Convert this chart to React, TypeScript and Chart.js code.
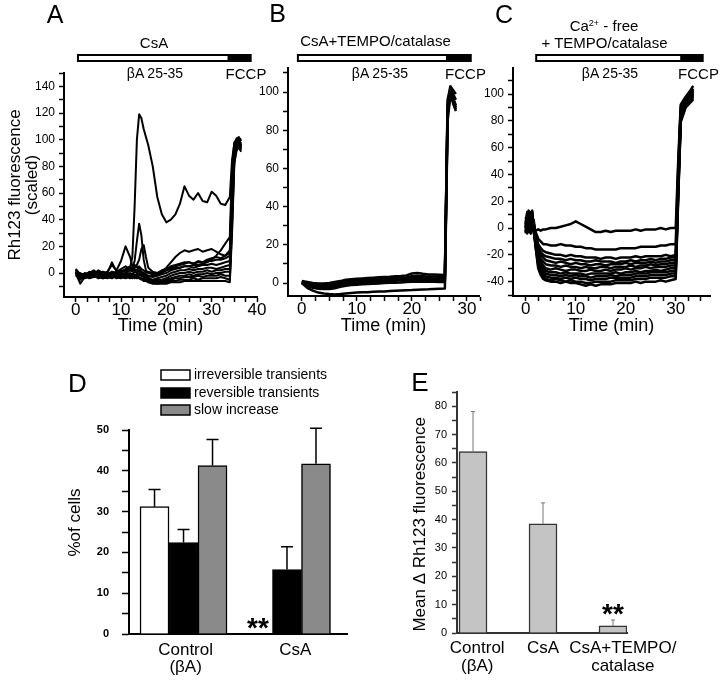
import React, { useEffect, useRef } from 'react';
import { Chart, registerables } from 'chart.js';

Chart.register(...registerables);

const FONT = '"Liberation Sans", Arial, Helvetica, sans-serif';

// ---------------- Panel A (CsA) ----------------
const A_TIME = [0, 1, 2, 3, 4, 5, 6, 7, 8, 9, 10, 11, 12, 12.5, 13, 13.5, 14, 14.5, 15, 15.5, 16, 17, 18, 19, 20, 21, 22, 23, 24, 25, 26, 27, 28, 29, 30, 31, 32, 33, 34, 34.5, 35, 35.5, 36, 36.5];
const A_CELL_1 = [2, -1, -2, 0, -1, 1, 0, -1, 1, 0, 2, 1, 4, 12, 50, 100, 119, 116, 108, 102, 96, 80, 57, 44, 38, 40, 44, 52, 65, 58, 55, 60, 54, 53, 61, 58, 52, 51, 57, 85, 97, 101, 102, 99];
const A_CELL_2 = [0, -2, -1, -1, 0, -2, -1, 0, -1, 1, 0, 2, 3, 4, 9, 24, 37, 28, 10, 2, 0, -1, 0, 2, 3, 5, 6, 7, 8, 8, 7, 8, 8, 9, 9, 10, 10, 11, 13, 75, 96, 99, 101, 100];
const A_CELL_3 = [1, -3, 0, -1, 1, 0, -1, 1, 6, 2, 9, 20, 12, 5, 2, 0, -1, -2, -1, -2, -3, -2, -1, 1, 4, 8, 12, 15, 17, 16, 17, 18, 16, 17, 18, 16, 14, 13, 17, 60, 93, 98, 100, 97];
const A_CELL_4 = [-1, 0, -2, 1, -1, 2, 0, -2, 0, -1, 1, 3, 5, 3, 4, 6, 10, 18, 21, 12, 4, 1, 0, 1, 2, 3, 4, 4, 5, 5, 6, 6, 7, 8, 10, 13, 17, 22, 27, 80, 98, 100, 97, 94];
const A_CELL_5 = [3, -1, -1, 0, 2, -1, 1, 0, 8, 1, 3, 5, 3, 2, 6, 4, 5, 3, 2, 0, 1, 0, -1, 0, 2, 4, 5, 6, 7, 8, 7, 9, 8, 10, 11, 12, 11, 13, 15, 70, 95, 99, 98, 95];
const A_CELL_6 = [-2, -4, -3, -2, -1, -3, -2, -1, 0, -2, -1, 0, 2, 1, 3, 2, 4, 1, 0, -1, -2, -3, -2, -1, 0, 2, 3, 4, 5, 5, 4, 5, 6, 6, 7, 6, 7, 8, 9, 65, 94, 98, 99, 96];
const A_CELL_7 = [0, -8, -3, -2, -3, -1, -3, -2, -1, -3, -2, -1, 0, -1, 1, 0, 2, 0, -2, -3, -4, -5, -4, -3, -2, 0, 1, 2, 2, 3, 2, 3, 3, 4, 4, 3, 4, 5, 6, 55, 92, 97, 98, 95];
const A_CELL_8 = [1, -2, -4, -3, -2, -4, -3, -4, -2, -3, -4, -2, -1, -2, -1, -3, -1, -2, -3, -4, -5, -6, -5, -5, -4, -2, -1, 0, 0, 1, 0, 1, 1, 2, 1, 2, 2, 3, 3, 50, 90, 96, 98, 96];
const A_CELL_9 = [-1, -3, -2, -4, -3, -2, -4, -3, -4, -2, -3, -4, -3, -4, -2, -3, -4, -5, -4, -5, -6, -7, -6, -6, -5, -4, -3, -2, -2, -1, -2, -1, -1, 0, -1, 0, 0, 1, 1, 45, 88, 95, 97, 94];
const A_CELL_10 = [2, -1, -3, -1, -2, -1, -2, -1, -3, -1, -2, -3, -2, -3, -4, -2, -3, -4, -5, -6, -6, -7, -7, -6, -6, -5, -4, -4, -3, -3, -3, -2, -3, -2, -2, -2, -1, -2, -2, 40, 86, 94, 96, 93];
const A_CELL_11 = [0, -2, -1, -3, -2, -3, -4, -3, -2, -4, -3, -2, -4, -3, -3, -4, -3, -4, -6, -6, -7, -8, -8, -7, -7, -6, -6, -5, -5, -5, -4, -5, -4, -4, -4, -4, -3, -4, -5, 35, 84, 93, 95, 92];
const A_CELL_12 = [1, -5, -2, -1, 0, -2, -1, -2, -3, -2, -1, -3, -2, -1, -2, -1, 0, -2, -3, -5, -6, -7, -8, -8, -8, -7, -7, -7, -6, -6, -6, -6, -6, -6, -6, -6, -6, -6, -7, 30, 82, 92, 94, 91];
const A_CELLS = [A_CELL_1, A_CELL_2, A_CELL_3, A_CELL_4, A_CELL_5, A_CELL_6, A_CELL_7, A_CELL_8, A_CELL_9, A_CELL_10, A_CELL_11, A_CELL_12];
const A_TREATMENT = [0.5, 33.5, 38.6]; // βA 25-35 start, FCCP start, end (min)

// ---------------- Panel B (CsA + TEMPO/catalase) ----------------
const B_TIME = [0, 1, 2, 3, 4, 5, 6, 7, 8, 9, 10, 11, 12, 13, 14, 15, 16, 17, 18, 19, 20, 21, 22, 23, 24, 25, 26, 26.5, 27, 27.5, 28];
const B_CELL_1 = [1, 0.5, 0, -0.3, -0.3, 0, 0.5, 1, 1.7, 2, 2.2, 2.4, 2.6, 2.8, 3, 3.2, 3.3, 3.5, 3.7, 4, 5, 5.2, 4.8, 4.5, 4.4, 4.3, 4.2, 96, 103, 101, 99];
const B_CELL_2 = [0.8, 0, -0.6, -1, -1.2, -1, -0.5, 0.2, 1, 1.2, 1.5, 1.7, 1.9, 2, 2.2, 2.4, 2.5, 2.7, 2.9, 3, 3.6, 3.8, 3.6, 3.4, 3.4, 3.3, 3.2, 94, 102, 99, 96];
const B_CELL_3 = [0.6, -0.5, -1.2, -1.7, -1.9, -1.8, -1.3, -0.6, 0.2, 0.5, 0.8, 1, 1.2, 1.3, 1.5, 1.7, 1.8, 2, 2.1, 2.3, 2.6, 2.8, 2.6, 2.5, 2.4, 2.3, 2.2, 92, 101, 97, 93];
const B_CELL_4 = [0.4, -1, -1.8, -2.3, -2.5, -2.4, -2, -1.3, -0.6, -0.3, 0, 0.2, 0.4, 0.5, 0.7, 0.9, 1, 1.2, 1.3, 1.5, 1.7, 1.9, 1.7, 1.6, 1.5, 1.4, 1.3, 90, 100, 95, 91];
const B_CELL_5 = [0.2, -1.5, -2.5, -3, -3.2, -3.1, -2.7, -2, -1.4, -1.1, -0.9, -0.7, -0.5, -0.4, -0.2, 0, 0.1, 0.2, 0.3, 0.5, 0.6, 0.8, 0.7, 0.6, 0.6, 0.5, 0.5, 88, 99, 94, 90];
const B_CELL_6 = [0, -2.5, -4, -5, -5.5, -5.8, -6, -5.8, -5.5, -5.2, -5, -4.9, -4.8, -4.6, -4.5, -4.4, -4.2, -4, -3.9, -3.8, -3.7, -3.5, -3.4, -3.3, -3.1, -3, -2.9, 85, 98, 96, 92];
const B_CELLS = [B_CELL_1, B_CELL_2, B_CELL_3, B_CELL_4, B_CELL_5, B_CELL_6];
const B_TREATMENT = [-0.7, 26.2, 30.7];

// ---------------- Panel C (Ca2+-free + TEMPO/catalase) ----------------
const C_TIME = [0, 0.3, 0.6, 1, 1.3, 1.6, 2, 2.5, 3, 3.5, 4, 5, 6, 7, 8, 9, 10, 11, 12, 13, 14, 15, 16, 17, 18, 19, 20, 21, 22, 23, 24, 25, 26, 27, 28, 29, 30, 30.5, 31, 32, 33, 33.5];
const C_CELL_1 = [2, 10, -3, 6, 12, 0, -2, -1, -2, -1, -1, 0, 0, 1, 2, 3, 5, 3, 1, -1, -3, -3, -2, -3, -2, -2, -2, -2, -1, -2, -1, -1, -1, 0, -1, 0, 0, 50, 92, 98, 103, 106];
const C_CELL_2 = [0, 8, 13, -4, 5, 2, -3, -8, -10, -12, -12, -13, -13, -12, -13, -13, -14, -14, -15, -15, -16, -16, -16, -16, -16, -15, -15, -15, -15, -14, -14, -14, -14, -13, -13, -12, -12, 45, 90, 97, 101, 104];
const C_CELL_3 = [5, -2, 9, 3, 11, -1, -5, -12, -15, -17, -18, -19, -20, -20, -21, -20, -21, -21, -22, -22, -22, -23, -22, -22, -23, -22, -22, -22, -21, -22, -21, -21, -21, -21, -20, -21, -20, 40, 88, 96, 100, 103];
const C_CELL_4 = [-2, 4, 12, 1, 7, 3, -6, -14, -18, -20, -21, -22, -23, -23, -24, -23, -24, -24, -25, -25, -24, -25, -25, -25, -26, -25, -25, -24, -25, -24, -24, -23, -24, -23, -23, -22, -22, 38, 87, 95, 99, 102];
const C_CELL_5 = [3, 11, -1, 8, 0, 6, -8, -16, -20, -22, -24, -25, -26, -25, -26, -27, -26, -27, -27, -28, -27, -27, -28, -27, -27, -27, -26, -27, -26, -26, -26, -25, -26, -25, -25, -24, -24, 36, 86, 95, 99, 101];
const C_CELL_6 = [1, 6, 10, -3, 9, 4, -9, -18, -23, -25, -27, -28, -28, -29, -28, -29, -29, -30, -29, -30, -30, -29, -29, -30, -29, -29, -29, -28, -29, -28, -28, -27, -28, -27, -27, -26, -26, 34, 85, 94, 98, 100];
const C_CELL_7 = [-4, 9, 2, 12, -2, 5, -10, -20, -25, -28, -30, -31, -30, -31, -32, -31, -31, -32, -32, -31, -32, -32, -31, -32, -31, -31, -30, -31, -30, -30, -29, -30, -29, -29, -29, -28, -28, 32, 84, 94, 97, 100];
const C_CELL_8 = [6, 0, 7, -4, 10, 1, -11, -22, -27, -30, -32, -33, -33, -34, -33, -34, -34, -34, -35, -34, -34, -34, -34, -34, -33, -34, -33, -33, -32, -33, -32, -32, -31, -32, -31, -30, -30, 30, 83, 93, 97, 99];
const C_CELL_9 = [0, 12, 4, 2, 8, -3, -12, -24, -29, -32, -34, -35, -35, -36, -35, -36, -35, -36, -36, -37, -36, -36, -36, -35, -36, -35, -35, -35, -34, -34, -34, -33, -33, -33, -33, -32, -32, 28, 82, 92, 96, 98];
const C_CELL_10 = [8, 2, -1, 10, 4, -2, -13, -26, -31, -34, -36, -37, -37, -38, -37, -38, -37, -38, -38, -39, -38, -38, -38, -37, -37, -37, -37, -37, -36, -36, -36, -35, -35, -35, -35, -34, -34, 26, 81, 92, 96, 98];
const C_CELL_11 = [-3, 7, 11, 0, 6, 2, -14, -28, -33, -36, -38, -39, -38, -39, -40, -39, -40, -40, -41, -41, -40, -40, -40, -40, -39, -39, -39, -39, -38, -38, -38, -37, -37, -37, -37, -36, -36, 24, 80, 91, 95, 97];
const C_CELL_12 = [2, -4, 8, 5, 13, -1, -15, -30, -35, -38, -39, -40, -40, -41, -40, -41, -41, -42, -43, -42, -43, -42, -42, -42, -41, -41, -41, -41, -40, -41, -40, -40, -40, -39, -40, -39, -38, 22, 79, 90, 94, 96];
const C_CELLS = [C_CELL_1, C_CELL_2, C_CELL_3, C_CELL_4, C_CELL_5, C_CELL_6, C_CELL_7, C_CELL_8, C_CELL_9, C_CELL_10, C_CELL_11, C_CELL_12];
const C_TREATMENT = [2.1, 30.9, 35.4];

// ---------------- Panel D (% of cells) ----------------
const D_CATEGORIES = [['Control', '(βA)'], ['CsA']];
const D_SERIES = ['irreversible transients', 'reversible transients', 'slow increase'];
const D_IRREVERSIBLE = [31.2, 0];
const D_IRREVERSIBLE_ERR = [4.2, 0];
const D_REVERSIBLE = [22.4, 15.8];
const D_REVERSIBLE_ERR = [3.2, 5.6];
const D_SLOW = [41.3, 41.7];
const D_SLOW_ERR = [6.4, 8.7];
const D_SIGNIFICANT = [{ series: 0, category: 1 }];

// ---------------- Panel E (mean Δ Rh123) ----------------
const E_CATEGORIES = [['Control', '(βA)'], ['CsA'], ['CsA+TEMPO/', 'catalase']];
const E_MEAN = [64, 38.5, 2.5];
const E_SEM = [14.1, 7.4, 2.1];
const E_SIGNIFICANT = [2];

// ---------------- helpers ----------------
const range = (a: number, b: number, step: number) => {
  const out: number[] = [];
  for (let i = 0; a + i * step <= b + 1e-9; i++) out.push(+(a + i * step).toFixed(4));
  return out;
};
const has = (list: number[], v: number) => list.some((u) => Math.abs(u - v) < 1e-6);

function treatmentPlugin(times: number[]) {
  return {
    id: 'treatmentBar',
    afterDraw(chart: any) {
      const { ctx } = chart;
      const x = chart.scales.x;
      const [a, b, c] = times.map((t) => x.getPixelForValue(t));
      ctx.save();
      ctx.fillStyle = '#fff';
      ctx.fillRect(a, 55, b - a, 6);
      ctx.fillStyle = '#000';
      ctx.fillRect(b, 55, c - b, 6);
      ctx.lineWidth = 2;
      ctx.strokeStyle = '#000';
      ctx.strokeRect(a, 55, c - a, 6);
      ctx.restore();
    },
  };
}

function errorPlugin(errors: number[][], color: string, width: number, cap: number) {
  return {
    id: 'errorBars',
    afterDatasetsDraw(chart: any) {
      const { ctx } = chart;
      const y = chart.scales.y;
      errors.forEach((errs, di) => {
        const meta = chart.getDatasetMeta(di);
        const ds = chart.data.datasets[di];
        meta.data.forEach((el: any, i: number) => {
          const e = errs[i];
          if (!e) return;
          const top = y.getPixelForValue(ds.data[i].y + e);
          ctx.save();
          ctx.strokeStyle = color;
          ctx.lineWidth = width;
          ctx.beginPath();
          ctx.moveTo(el.x, el.y);
          ctx.lineTo(el.x, top);
          ctx.moveTo(el.x - cap / 2, top);
          ctx.lineTo(el.x + cap / 2, top);
          ctx.stroke();
          ctx.restore();
        });
      });
    },
  };
}

function starsPlugin(marks: { series: number; category: number }[], errors: number[][]) {
  return {
    id: 'stars',
    afterDatasetsDraw(chart: any) {
      const { ctx } = chart;
      const y = chart.scales.y;
      marks.forEach(({ series, category }) => {
        const el = chart.getDatasetMeta(series).data[category];
        const v = chart.data.datasets[series].data[category].y + (errors[series][category] || 0);
        const cy = y.getPixelForValue(v) - 13;
        ctx.save();
        ctx.font = `bold 28px ${FONT}`;
        ctx.textAlign = 'center';
        ctx.textBaseline = 'alphabetic';
        ctx.fillStyle = '#000';
        ctx.fillText('**', el.x, cy + 0.57 * 28);
        ctx.restore();
      });
    },
  };
}

function legendPlugin() {
  return {
    id: 'boxLegend',
    afterDraw(chart: any) {
      const { ctx, chartArea } = chart;
      const rows = [-55, -37, -20];
      ctx.save();
      ctx.font = `14px ${FONT}`;
      ctx.textBaseline = 'middle';
      ctx.textAlign = 'left';
      chart.data.datasets.forEach((ds: any, i: number) => {
        const cy = chartArea.top + rows[i];
        const bx = chartArea.left + 32;
        ctx.fillStyle = ds.backgroundColor;
        ctx.fillRect(bx, cy - 5, 29, 10);
        ctx.strokeStyle = '#000';
        ctx.lineWidth = 1.5;
        ctx.strokeRect(bx, cy - 5, 29, 10);
        ctx.fillStyle = '#000';
        ctx.fillText(ds.label, bx + 33, cy);
      });
      ctx.restore();
    },
  };
}

type TraceCfg = {
  time: number[];
  cells: number[][];
  treatment: number[];
  xMin: number; xMax: number; yMin: number; yMax: number;
  xTicks: number[]; xLabels: number[];
  yTicks: number[]; yLabels: number[];
  yTitle: string[] | null;
  padTop: number; padRight: number; yWidth: number; xHeight: number;
  lineWidth: number;
};

function traceConfig(c: TraceCfg): any {
  return {
    type: 'line',
    data: {
      datasets: c.cells.map((cell, k) => ({
        label: `cell ${k + 1}`,
        data: c.time.map((t, i) => ({ x: t, y: cell[i] })),
        borderColor: '#000',
        borderWidth: c.lineWidth,
        pointRadius: 0,
        fill: false,
        tension: 0,
        borderJoinStyle: 'round',
      })),
    },
    options: {
      animation: false,
      responsive: false,
      devicePixelRatio: 1,
      events: [],
      layout: { padding: { left: 0, top: c.padTop, right: c.padRight, bottom: 0 } },
      plugins: { legend: { display: false }, tooltip: { enabled: false } },
      scales: {
        x: {
          type: 'linear',
          min: c.xMin,
          max: c.xMax,
          afterBuildTicks: (s: any) => { s.ticks = c.xTicks.map((v) => ({ value: v })); },
          afterFit: (s: any) => { s.height = c.xHeight; },
          ticks: {
            autoSkip: false, maxRotation: 0, minRotation: 0, padding: 0, color: '#000',
            font: { size: 17, lineHeight: 1 },
            callback: (v: number) => (has(c.xLabels, v) ? String(v) : ''),
          },
          grid: { drawOnChartArea: false, drawTicks: true, tickLength: 5, tickColor: '#000', tickWidth: 1.5 },
          border: { display: true, color: '#000', width: 2 },
          title: { display: true, text: 'Time (min)', color: '#000', font: { size: 18, lineHeight: 1 }, padding: { top: 0, bottom: 5 } },
        },
        y: {
          type: 'linear',
          min: c.yMin,
          max: c.yMax,
          afterBuildTicks: (s: any) => { s.ticks = c.yTicks.map((v) => ({ value: v })); },
          afterFit: (s: any) => { s.width = c.yWidth; },
          ticks: {
            autoSkip: false, padding: 4, color: '#000',
            font: { size: 12, lineHeight: 1 },
            callback: (v: number) => (has(c.yLabels, v) ? String(v) : ''),
          },
          grid: { drawOnChartArea: false, drawTicks: true, tickLength: 5, tickColor: '#000', tickWidth: 1.5 },
          border: { display: true, color: '#000', width: 2 },
          title: c.yTitle
            ? { display: true, text: c.yTitle, color: '#000', font: { size: 17, lineHeight: 1 }, padding: { top: 6.5, bottom: 0 } }
            : { display: false },
        },
      },
    },
    plugins: [treatmentPlugin(c.treatment)],
  };
}

function dConfig(): any {
  const errors = [D_IRREVERSIBLE_ERR, D_REVERSIBLE_ERR, D_SLOW_ERR];
  const series = [D_IRREVERSIBLE, D_REVERSIBLE, D_SLOW];
  const fills = ['#ffffff', '#000000', '#8a8a8a'];
  const labelPos = [0.02, 1.08];
  return {
    type: 'bar',
    data: {
      datasets: series.map((vals, k) => ({
        label: D_SERIES[k],
        data: vals.map((v, i) => ({ x: i, y: v })),
        backgroundColor: fills[k],
        borderColor: '#000',
        borderWidth: 1.5,
        barThickness: 29,
      })),
    },
    options: {
      animation: false,
      responsive: false,
      devicePixelRatio: 1,
      events: [],
      layout: { padding: { left: 0, top: 70, right: 13, bottom: 0 } },
      plugins: { legend: { display: false }, tooltip: { enabled: false } },
      scales: {
        x: {
          type: 'linear', min: -0.527, max: 1.58, offset: false,
          afterBuildTicks: (s: any) => { s.ticks = labelPos.map((v) => ({ value: v })); },
          afterFit: (s: any) => { s.height = 46; },
          ticks: {
            autoSkip: false, maxRotation: 0, minRotation: 0, padding: 7, color: '#000',
            font: { size: 17, lineHeight: 1.05 },
            callback: (_v: number, i: number) => D_CATEGORIES[i],
          },
          grid: { display: false, drawTicks: false },
          border: { display: true, color: '#000', width: 2 },
        },
        y: {
          type: 'linear', min: 0, max: 50,
          afterBuildTicks: (s: any) => { s.ticks = range(0, 50, 5).map((v) => ({ value: v })); },
          afterFit: (s: any) => { s.width = 69; },
          ticks: {
            autoSkip: false, padding: 13, color: '#000',
            font: { size: 11, weight: 'bold', lineHeight: 1 },
            callback: (v: number) => (v % 10 === 0 ? String(v) : ''),
          },
          grid: { drawOnChartArea: false, drawTicks: true, tickLength: 7, tickColor: '#000', tickWidth: 1.5 },
          border: { display: true, color: '#000', width: 2 },
          title: { display: true, text: '\u00a0\u00a0\u00a0\u00a0%of cells', color: '#000', font: { size: 17, lineHeight: 1 }, padding: { top: 6.5, bottom: 0 } },
        },
      },
    },
    plugins: [errorPlugin(errors, '#000', 1.5, 12), starsPlugin(D_SIGNIFICANT, errors), legendPlugin()],
  };
}

function eConfig(): any {
  const errors = [E_SEM];
  const labelPos = [0.06, 1.0, 2.14];
  return {
    type: 'bar',
    data: {
      datasets: [{
        label: 'Mean Δ Rh123 fluorescence',
        data: E_MEAN.map((v, i) => ({ x: i, y: v })),
        backgroundColor: '#c4c4c4',
        borderColor: '#333',
        borderWidth: 1.5,
        barThickness: 28,
      }],
    },
    options: {
      animation: false,
      responsive: false,
      devicePixelRatio: 1,
      events: [],
      layout: { padding: { left: 0, top: 32, right: 93, bottom: 0 } },
      plugins: { legend: { display: false }, tooltip: { enabled: false } },
      scales: {
        x: {
          type: 'linear', min: -0.229, max: 2.2, offset: false,
          afterBuildTicks: (s: any) => { s.ticks = labelPos.map((v) => ({ value: v })); },
          afterFit: (s: any) => { s.height = 47; },
          ticks: {
            autoSkip: false, maxRotation: 0, minRotation: 0, padding: 5.5, color: '#000',
            font: { size: 17, lineHeight: 1.1 },
            callback: (_v: number, i: number) => E_CATEGORIES[i],
          },
          grid: { display: false, drawTicks: false },
          border: { display: true, color: '#333', width: 2 },
        },
        y: {
          type: 'linear', min: 0, max: 85,
          afterBuildTicks: (s: any) => { s.ticks = range(0, 85, 5).map((v) => ({ value: v })); },
          afterFit: (s: any) => { s.width = 57; },
          ticks: {
            autoSkip: false, padding: 5, color: '#000',
            font: { size: 11, lineHeight: 1 },
            callback: (v: number) => (v % 10 === 0 ? String(v) : ''),
          },
          grid: { drawOnChartArea: false, drawTicks: true, tickLength: 5, tickColor: '#333', tickWidth: 1.5 },
          border: { display: true, color: '#333', width: 2 },
          title: { display: true, text: 'Mean Δ Rh123 fluorescence\u00a0\u00a0\u00a0\u00a0\u00a0', color: '#000', font: { size: 17, lineHeight: 1 }, padding: { top: 11.5, bottom: 0 } },
        },
      },
    },
    plugins: [
      errorPlugin(errors, '#777', 1, 4),
      starsPlugin(E_SIGNIFICANT.map((i) => ({ series: 0, category: i })), errors),
    ],
  };
}

const A_CFG: TraceCfg = {
  time: A_TIME, cells: A_CELLS, treatment: A_TREATMENT,
  xMin: -2.58, xMax: 40, yMin: -18, yMax: 150,
  xTicks: range(0, 40, 2.5), xLabels: [0, 10, 20, 30, 40],
  yTicks: range(-10, 150, 10), yLabels: [0, 20, 40, 60, 80, 100, 120, 140],
  yTitle: ['Rh123 fluorescence', '(scaled)'],
  padTop: 73, padRight: 15, yWidth: 64, xHeight: 43, lineWidth: 2,
};
const B_CFG: TraceCfg = {
  time: B_TIME, cells: B_CELLS, treatment: B_TREATMENT,
  xMin: -2.5, xMax: 32.2, yMin: -6.8, yMax: 112.6,
  xTicks: range(0, 32.5, 2.5), xLabels: [0, 10, 20, 30],
  yTicks: range(0, 110, 10), yLabels: [0, 20, 40, 60, 80, 100],
  yTitle: null,
  padTop: 68, padRight: 6, yWidth: 48, xHeight: 44, lineWidth: 2.5,
};
const C_CFG: TraceCfg = {
  time: C_TIME, cells: C_CELLS, treatment: C_TREATMENT,
  xMin: -2.54, xMax: 36.86, yMin: -50.7, yMax: 119.4,
  xTicks: range(0, 35, 2.5), xLabels: [0, 10, 20, 30],
  yTicks: range(-50, 110, 10), yLabels: [-40, -20, 0, 20, 40, 60, 80, 100],
  yTitle: null,
  padTop: 68, padRight: 10, yWidth: 43, xHeight: 44, lineWidth: 2.5,
};

const TEXTS: { t: string; x: number; y: number; s: number }[] = [
  { t: 'A', x: 55, y: 14, s: 25 },
  { t: 'B', x: 277.5, y: 13, s: 25 },
  { t: 'C', x: 504, y: 14, s: 25 },
  { t: 'D', x: 77.5, y: 383, s: 26 },
  { t: 'E', x: 420, y: 382, s: 26 },
  { t: 'CsA', x: 154, y: 42, s: 15 },
  { t: 'βA 25-35', x: 155, y: 73, s: 14 },
  { t: 'FCCP', x: 246, y: 73, s: 15 },
  { t: 'CsA+TEMPO/catalase', x: 375.5, y: 40, s: 15 },
  { t: 'βA 25-35', x: 380, y: 73, s: 14 },
  { t: 'FCCP', x: 465.5, y: 73, s: 15 },
  { t: '+ TEMPO/catalase', x: 604.5, y: 42, s: 15 },
  { t: 'βA 25-35', x: 610, y: 73, s: 14 },
  { t: 'FCCP', x: 698.5, y: 73, s: 15 },
];

const textStyle = (x: number, y: number, s: number): React.CSSProperties => ({
  position: 'absolute', left: x, top: y, transform: 'translate(-50%, -50%)',
  fontSize: s, lineHeight: 1, whiteSpace: 'nowrap', color: '#000', fontFamily: FONT,
});

export default function App() {
  const aRef = useRef<HTMLCanvasElement>(null);
  const bRef = useRef<HTMLCanvasElement>(null);
  const cRef = useRef<HTMLCanvasElement>(null);
  const dRef = useRef<HTMLCanvasElement>(null);
  const eRef = useRef<HTMLCanvasElement>(null);

  useEffect(() => {
    Chart.defaults.font.family = FONT;
    Chart.defaults.color = '#000';
    const charts = [
      new Chart(aRef.current as HTMLCanvasElement, traceConfig(A_CFG)),
      new Chart(bRef.current as HTMLCanvasElement, traceConfig(B_CFG)),
      new Chart(cRef.current as HTMLCanvasElement, traceConfig(C_CFG)),
      new Chart(dRef.current as HTMLCanvasElement, dConfig()),
      new Chart(eRef.current as HTMLCanvasElement, eConfig()),
    ];
    return () => charts.forEach((ch) => ch.destroy());
  }, []);

  return (
    <div style={{ position: 'fixed', left: 0, top: 0, width: 720, height: 680, background: '#fff', overflow: 'hidden', fontFamily: FONT }}>
      <canvas ref={aRef} width={272} height={340} style={{ position: 'absolute', left: 0, top: 0 }} />
      <canvas ref={bRef} width={245} height={340} style={{ position: 'absolute', left: 240, top: 0 }} />
      <canvas ref={cRef} width={250} height={340} style={{ position: 'absolute', left: 470, top: 0 }} />
      <canvas ref={dRef} width={300} height={320} style={{ position: 'absolute', left: 60, top: 360 }} />
      <canvas ref={eRef} width={320} height={320} style={{ position: 'absolute', left: 400, top: 360 }} />
      {TEXTS.map((o, i) => (
        <div key={i} style={textStyle(o.x, o.y, o.s)}>{o.t}</div>
      ))}
      <div style={textStyle(604, 25, 15)}>
        Ca<span style={{ fontSize: 9, position: 'relative', top: -5 }}>2+</span> - free
      </div>
    </div>
  );
}
